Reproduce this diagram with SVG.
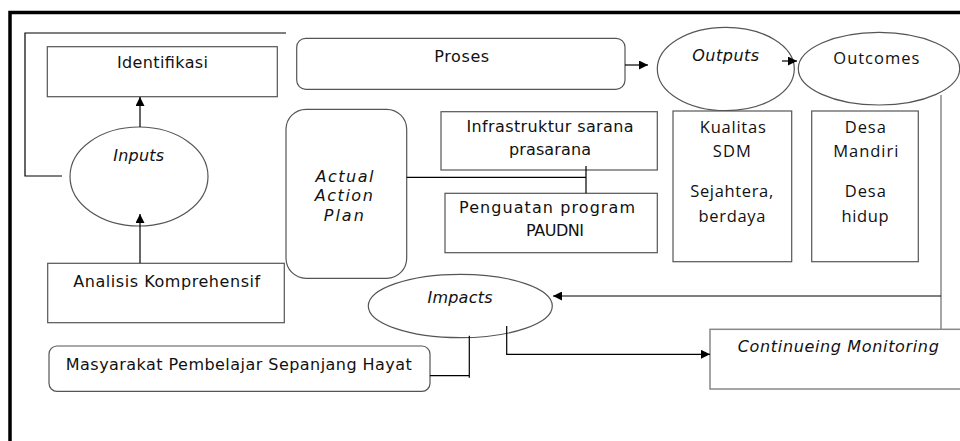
<svg xmlns="http://www.w3.org/2000/svg" width="960" height="441" viewBox="0 0 960 441">
<style>
.box{fill:#fff;stroke:#555;stroke-width:1.2}
.gbox{fill:#fff;stroke:#888;stroke-width:1.5}
.ln{fill:none;stroke:#000;stroke-width:1.2}
.t{font-family:"DejaVu Sans","Liberation Sans",sans-serif;font-size:16px;fill:#111;text-anchor:middle}
.c{font-family:"Open Sans","Liberation Sans",sans-serif;font-size:16.5px;fill:#111;text-anchor:middle}
.i{font-style:italic}
</style>
<defs>
<marker id="ah" viewBox="0 0 10 10" refX="10" refY="5" markerWidth="10" markerHeight="9" markerUnits="userSpaceOnUse" orient="auto">
<path d="M0,0 L10,5 L0,10 Z" fill="#000"/>
</marker>
</defs>
<rect width="960" height="441" fill="#fff"/>
<path d="M10,441 V12.5 H960" fill="none" stroke="#000" stroke-width="3.5"/>

<g id="identifikasi">
<rect class="box" x="47.3" y="46.7" width="230" height="50"/>
<text class="t" x="162.5" y="68" textLength="91">Identifikasi</text>
</g>
<g id="inputs">
<ellipse class="box" cx="139" cy="176.5" rx="69" ry="49.5"/>
<text class="t i" x="138.7" y="161" textLength="51">Inputs</text>
</g>
<g id="analisis">
<rect class="box" x="47.7" y="263.3" width="236.6" height="59.4"/>
<text class="t" x="166.7" y="286.7" textLength="187">Analisis Komprehensif</text>
</g>
<g id="masyarakat">
<rect class="box" x="49" y="346" width="381" height="45.3" rx="8"/>
<text class="t" x="238.8" y="370" textLength="346">Masyarakat Pembelajar Sepanjang Hayat</text>
</g>
<g id="proses">
<rect class="box" x="296.7" y="38.3" width="328.3" height="51" rx="9"/>
<text class="t" x="461.7" y="61.7" textLength="55">Proses</text>
</g>
<g id="outputs">
<ellipse class="box" cx="725.8" cy="69" rx="68.5" ry="41.7"/>
<text class="t i" x="725.7" y="61" textLength="67">Outputs</text>
</g>
<g id="outcomes">
<ellipse class="box" cx="879" cy="68.7" rx="80.7" ry="36.3"/>
<text class="c" x="876.3" y="64.3" textLength="86">Outcomes</text>
</g>
<g id="action-plan">
<rect class="box" x="286" y="109.3" width="120.7" height="169" rx="20"/>
<text class="t i" x="344.5" y="181.7" textLength="58">Actual</text>
<text class="t i" x="343.8" y="200.5" textLength="58">Action</text>
<text class="t i" x="343.8" y="220.7" textLength="40">Plan</text>
</g>
<g id="infrastruktur">
<rect class="box" x="441" y="111.7" width="216.3" height="58.3"/>
<text class="t" x="550" y="131.7" textLength="167">Infrastruktur sarana</text>
<text class="t" x="550" y="155" textLength="82">prasarana</text>
</g>
<g id="penguatan">
<rect class="box" x="445" y="193.3" width="212.3" height="59.4"/>
<text class="t" x="547" y="213.3" textLength="176">Penguatan program</text>
<text class="t" x="555" y="236" textLength="58">PAUDNI</text>
</g>
<g id="kualitas">
<rect class="box" x="673" y="111" width="118.7" height="150.7"/>
<text class="c" x="732.8" y="132.7" textLength="66">Kualitas</text>
<text class="c" x="731.8" y="157.3" textLength="38">SDM</text>
<text class="c" x="731.7" y="196.7" textLength="83">Sejahtera,</text>
<text class="c" x="732" y="221.7" textLength="67">berdaya</text>
</g>
<g id="desa">
<rect class="box" x="811.7" y="111" width="106.6" height="150.7"/>
<text class="c" x="865.3" y="132.7" textLength="41">Desa</text>
<text class="c" x="865.8" y="157.3" textLength="65">Mandiri</text>
<text class="c" x="865.3" y="196.7" textLength="41">Desa</text>
<text class="c" x="865" y="221.7" textLength="47">hidup</text>
</g>
<g id="impacts">
<ellipse class="box" cx="460.3" cy="306" rx="92" ry="31.7"/>
<text class="t i" x="460" y="303" textLength="65">Impacts</text>
</g>
<g id="monitoring">
<rect class="gbox" x="710" y="329.3" width="260" height="59.7"/>
<text class="t i" x="838.3" y="351.7" textLength="201">Continueing Monitoring</text>
</g>

<g id="connectors">
<path class="ln" d="M286,33 H25 V176 H62"/>
<path class="ln" d="M140,127 V97" marker-end="url(#ah)"/>
<path class="ln" d="M140,263 V214" marker-end="url(#ah)"/>
<path class="ln" d="M625,65 H648" marker-end="url(#ah)"/>
<path class="ln" d="M782,61 H797" marker-end="url(#ah)"/>
<path class="ln" d="M406.7,177.3 H586 M586,166 V193.3"/>
<path d="M941,95 V329" fill="none" stroke="#888" stroke-width="1.5"/>
<path class="ln" d="M941,296 H553" marker-end="url(#ah)"/>
<path class="ln" d="M506.7,326 V354.3 H710" marker-end="url(#ah)"/>
<path class="ln" d="M430,375.7 H469.3 M469.3,335.7 V377.7"/>
</g>
</svg>
